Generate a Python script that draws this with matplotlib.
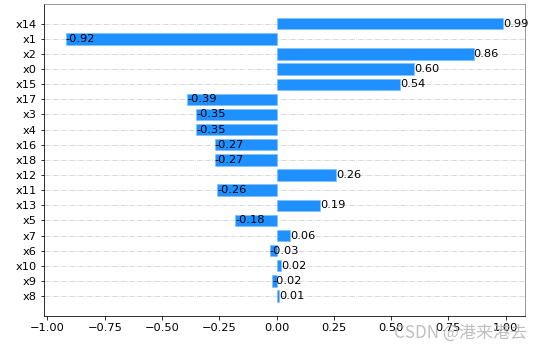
import numpy as np
import matplotlib.pyplot as plt

# features, top to bottom as shown
names = ['x14', 'x1', 'x2', 'x0', 'x15', 'x17', 'x3', 'x4', 'x16', 'x18',
         'x12', 'x11', 'x13', 'x5', 'x7', 'x6', 'x10', 'x9', 'x8']
values = [0.99, -0.92, 0.86, 0.60, 0.54, -0.39, -0.35, -0.35, -0.27, -0.27,
          0.26, -0.26, 0.19, -0.18, 0.06, -0.03, 0.02, -0.02, 0.01]

names = names[::-1]
values = values[::-1]
y = np.arange(len(names))

plt.rcParams['font.size'] = 11.4

fig = plt.figure(figsize=(542 / 72, 351 / 72), dpi=72)
ax = fig.add_axes([0.081, 0.1, 0.888, 0.889])

ax.barh(y, values, height=0.75, color='dodgerblue', edgecolor='#7fbfff',
        linewidth=0.6, zorder=2)
for yi, v in zip(y, values):
    ax.text(v, yi, '%.2f' % v, ha='left', va='center', zorder=3)

ax.set_yticks(y)
ax.set_yticklabels(names)
ax.set_xticks([-1.0, -0.75, -0.5, -0.25, 0.0, 0.25, 0.5, 0.75, 1.0])
ax.grid(axis='y', linestyle='-.', color='#d0d0d0', linewidth=0.8, zorder=0)
ax.set_axisbelow(True)

for s in ['top', 'right']:
    ax.spines[s].set_color('#808080')

fig.text(0.973, 0.051, 'CSDN @港来港去', ha='right', va='center', fontsize=17,
         color='#b0b0b0', alpha=0.8,
         family=['Noto Sans CJK SC', 'DejaVu Sans'])

fig.savefig('out.png', dpi=72)
